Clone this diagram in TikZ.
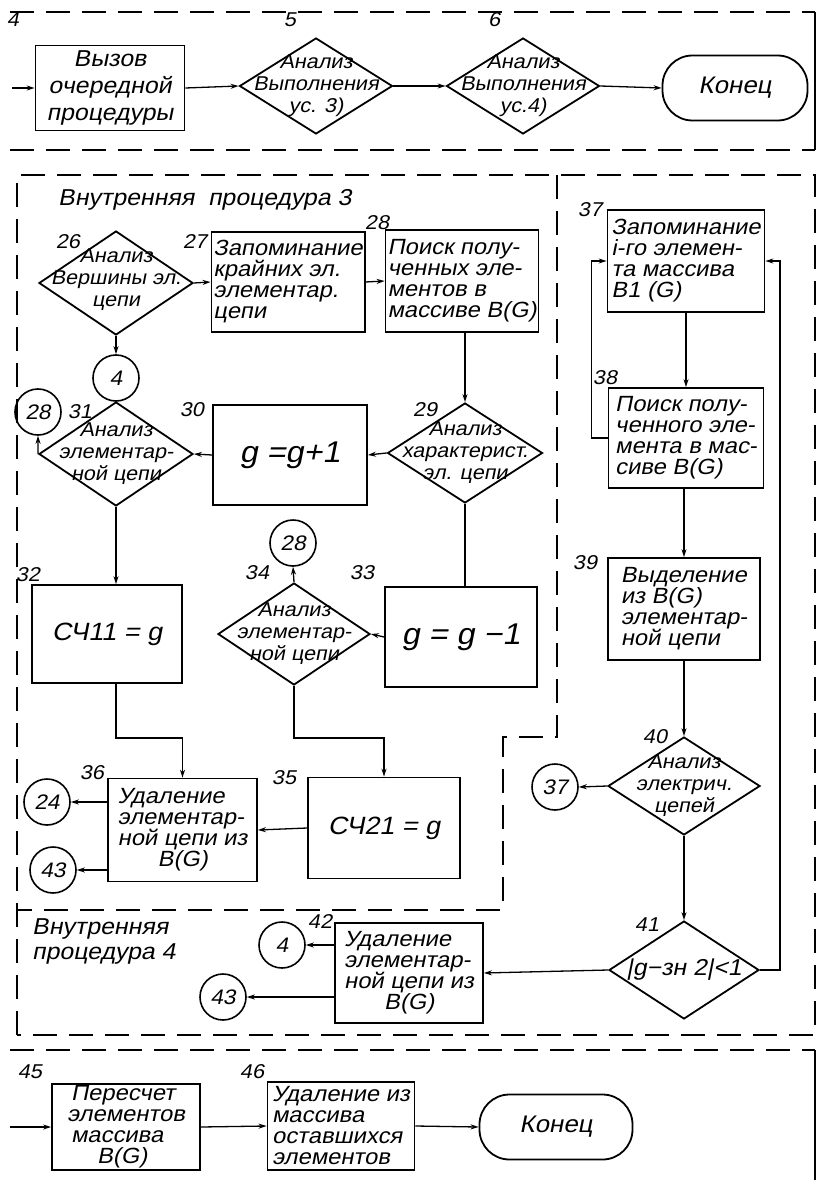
\documentclass[tikz,border=0pt]{standalone}
\usepackage{fontspec}
\setmainfont{Liberation Sans}
\newfontfamily\dfont{Liberation Sans}[FakeSlant=0.2,FakeStretch=1.08]
\usetikzlibrary{shapes.geometric,arrows.meta}
\begin{document}
\begin{tikzpicture}[x=1pt,y=-1pt,
  every node/.style={font=\dfont\fontsize{22}{21}\selectfont},
  box/.style={draw,line width=1.8pt,rectangle,inner sep=2pt,align=left},
  dia/.style={draw,line width=1.8pt,diamond,inner sep=0pt},
  dtxt/.style={align=center,inner sep=0pt,font=\dfont\fontsize{20}{22}\selectfont},
  term/.style={draw,line width=1.8pt,rectangle,rounded corners=30pt},
  circ/.style={draw,line width=1.6pt,circle,minimum size=46pt,inner sep=0pt,font=\dfont\fontsize{21}{21}\selectfont},
  lbl/.style={inner sep=0pt,font=\dfont\fontsize{20}{20}\selectfont},
  arr/.style={line width=1.3pt,-{Stealth[length=8pt,width=5pt]}},
  ln/.style={line width=1.3pt},
  dsh/.style={line width=1.6pt,dash pattern=on 24pt off 12pt},
  frm/.style={line width=1.6pt}
]
\useasboundingbox (0,0) rectangle (822,1180);

% ---------------- frames ----------------
\draw[dsh] (10,12) -- (815,12);
\draw[frm] (815,12) -- (815,150);
\draw[dsh] (10,150) -- (815,150);
\draw[dsh] (17,1035) -- (17,175) -- (815,175) -- (815,1035) -- cycle;
\draw[dsh] (557,175) -- (557,737) -- (503,737) -- (503,910) -- (17,910);
\draw[dsh] (10,1050) -- (815,1050);
\draw[frm] (815,1050) -- (815,1180);

% ---------------- top section ----------------
\coordinate (in1) at (12,88);
\node[box,minimum width=149pt,minimum height=85pt,align=center,font=\dfont\fontsize{23}{27}\selectfont] (b4) at (110,88) {Вызов\\очередной\\процедуры};
\node[lbl] (l4) at (13,20) {4};
\node[dia,minimum width=153pt,minimum height=96pt] (d5) at (316,86) {};
\node[dtxt] (d5t) at (d5) {Анализ\\Выполнения\\ус. 3)};
\node[lbl] (l5) at (290,20) {5};
\node[dia,minimum width=153pt,minimum height=96pt] (d6) at (523,86) {};
\node[dtxt] (d6t) at (d6) {Анализ\\Выполнения\\ус.4)};
\node[lbl] (l6) at (494,20) {6};
\node[term,minimum width=145pt,minimum height=65pt,font=\dfont\fontsize{24}{24}\selectfont] (t1) at (735,88) {Конец};
\draw[arr] (in1) -- (b4.west);
\draw[arr] (b4.east) -- (d5.west);
\draw[arr] (d5.east) -- (d6.west);
\draw[arr] (d6.east) -- (t1.west);

% ---------------- procedure 3 ----------------
\node[inner sep=0pt,anchor=west,font=\dfont\fontsize{23}{23}\selectfont] (h3) at (58,200) {Внутренняя\ \ процедура 3};
\node[dia,minimum width=154pt,minimum height=104pt] (d26) at (116,283) {};
\node[dtxt] (d26t) at ([yshift=3pt]d26.center) {Анализ\\Вершины эл.\\цепи};
\node[lbl] (l26) at (68,242) {26};
\node[box,minimum width=150pt,minimum height=100pt] (b27) at (288,282) {Запоминание\\крайних эл.\\элементар.\\цепи};
\node[lbl] (l27) at (195,242) {27};
\node[box,minimum width=150pt,minimum height=102pt] (b28) at (462,281) {Поиск полу-\\ченных эле-\\ментов в\\массиве B(G)};
\node[lbl] (l28) at (377,223) {28};
\node[circ] (c4a) at (116,378) {4};
\node[dia,minimum width=154pt,minimum height=104pt] (d31) at (116,454) {};
\node[dtxt] (d31t) at (d31) {Анализ\\элементар-\\ной цепи};
\node[lbl] (l31) at (80,412) {31};
\node[circ] (c28a) at (38,412) {28};
\node[box,minimum width=154pt,minimum height=100pt,font=\dfont\fontsize{30}{30}\selectfont] (b30) at (290,455) {g =g+1};
\node[lbl] (l30) at (192,410) {30};
\node[dia,minimum width=155pt,minimum height=100pt] (d29) at (465,453) {};
\node[dtxt] (d29t) at (d29) {Анализ\\характерист.\\эл. цепи};
\node[lbl] (l29) at (425,410) {29};
\node[box,minimum width=150pt,minimum height=98pt,font=\dfont\fontsize{25}{25}\selectfont] (b32) at (107,634) {СЧ11 = g};
\node[lbl] (l32) at (28,575) {32};
\node[circ] (c28b) at (293,543) {28};
\node[dia,minimum width=152pt,minimum height=102pt] (d34) at (294,634) {};
\node[dtxt] (d34t) at (d34) {Анализ\\элементар-\\ной цепи};
\node[lbl] (l34) at (257,573) {34};
\node[box,minimum width=152pt,minimum height=100pt,font=\dfont\fontsize{30}{30}\selectfont] (b33) at (461,637) {g = g −1};
\node[lbl] (l33) at (362,573) {33};
\node[box,minimum width=149pt,minimum height=103pt] (b36) at (182.5,830) {Удаление\\элементар-\\ной цепи из\\\hspace{40pt}B(G)};
\node[lbl] (l36) at (92,773) {36};
\node[box,minimum width=152pt,minimum height=101pt,font=\dfont\fontsize{25}{25}\selectfont] (b35) at (384,828) {СЧ21 = g};
\node[lbl] (l35) at (284,778) {35};
\node[circ] (c24) at (47,802) {24};
\node[circ] (c43a) at (53,870) {43};

\draw[arr] (d26.east) -- (b27.west);
\draw[arr] (b27.east) -- (b28.west);
\draw[arr] (d26.south) -- (c4a.north);
\draw[arr] (d31.west) -- (c28a.south);
\draw[arr] (b28.south -| d29.north) -- (d29.north);
\draw[arr] (d29.west) -- (b30.east);
\draw[arr] (b30.west) -- (d31.east);
\draw[arr] (d31.south) -- (d31.south |- b32.north);
\draw[ln] (d29.south) -- (d29.south |- b33.north);
\draw[arr] (b33.west) -- (d34.east);
\draw[arr] (d34.north) -- (c28b.south);
\draw[arr] (b32.south -| d31.south) -- ++(0,54) -| (b36.north);
\draw[arr] (d34.south) -- ++(0,52) -| (b35.north);
\draw[arr] (b35.west) -- (b36.east);
\draw[arr] (b36.west |- c24.east) -- (c24.east);
\draw[arr] (b36.west |- c43a.east) -- (c43a.east);

% ---------------- procedure 4 ----------------
\node[inner sep=0pt,anchor=north west,align=left,font=\dfont\fontsize{23}{25}\selectfont] (h4) at (32,918) {Внутренняя\\процедура 4};
\node[box,minimum width=157pt,minimum height=102pt] (b37) at (686,261) {Запоминание\\i-го элемен-\\та массива\\B1 (G)};
\node[lbl] (l37) at (590,210) {37};
\node[box,minimum width=155pt,minimum height=100pt] (b38) at (686,438) {Поиск полу-\\ченного эле-\\мента в мас-\\сиве B(G)};
\node[lbl] (l38) at (605,378) {38};
\node[box,minimum width=152pt,minimum height=102pt] (b39) at (684,609) {Выделение\\из B(G)\\элементар-\\ной цепи};
\node[lbl] (l39) at (585,563) {39};
\node[dia,minimum width=152pt,minimum height=98pt] (d40) at (684,786) {};
\node[dtxt] (d40t) at (d40) {Анализ\\электрич.\\цепей};
\node[lbl] (l40) at (655,737) {40};
\node[circ] (c37) at (555,787) {37};
\node[dia,minimum width=150pt,minimum height=98pt] (d41) at (684,970) {};
\node[dtxt,font=\dfont\fontsize{23}{23}\selectfont] (d41t) at (d41) {|g−зн 2|<1};
\node[lbl] (l41) at (647,925) {41};
\node[box,minimum width=148pt,minimum height=100pt] (b42) at (409,973) {Удаление\\элементар-\\ной цепи из\\\hspace{40pt}B(G)};
\node[lbl] (l42) at (320,922) {42};
\node[circ] (c4b) at (282,945) {4};
\node[circ] (c43b) at (223,997) {43};

\draw[arr] (b37.south) -- (b38.north);
\draw[arr] (b38.west) -- ++(-16,0) |- (b37.west);
\draw[arr] (b38.south -| b39.north) -- (b39.north);
\draw[arr] (b39.south) -- (d40.north);
\draw[arr] (d40.west) -- (c37.east);
\draw[arr] (d40.south) -- (d41.north);
\draw[arr] (d41.east) -- ++(20,0) |- (b37.east);
\draw[arr] (d41.west) -- (b42.east);
\draw[arr] (b42.west |- c4b.east) -- (c4b.east);
\draw[arr] (b42.west |- c43b.east) -- (c43b.east);

% ---------------- bottom section ----------------
\coordinate (in2) at (10,1127);
\node[box,minimum width=148pt,minimum height=85pt] (b45) at (126,1127) {\hspace{4pt}Пересчет\\элементов\\\hspace{4pt}массива\\\hspace{30pt}B(G)};
\node[lbl] (l45) at (30,1072) {45};
\node[box,minimum width=147pt,minimum height=88pt] (b46) at (341,1126) {Удаление из\\массива\\оставшихся\\элементов};
\node[lbl] (l46) at (252,1072) {46};
\node[term,minimum width=153pt,minimum height=65pt,font=\dfont\fontsize{24}{24}\selectfont] (t2) at (556,1127) {Конец};
\draw[arr] (in2) -- (b45.west);
\draw[arr] (b45.east) -- (b46.west);
\draw[arr] (b46.east) -- (t2.west);
\end{tikzpicture}
\end{document}
